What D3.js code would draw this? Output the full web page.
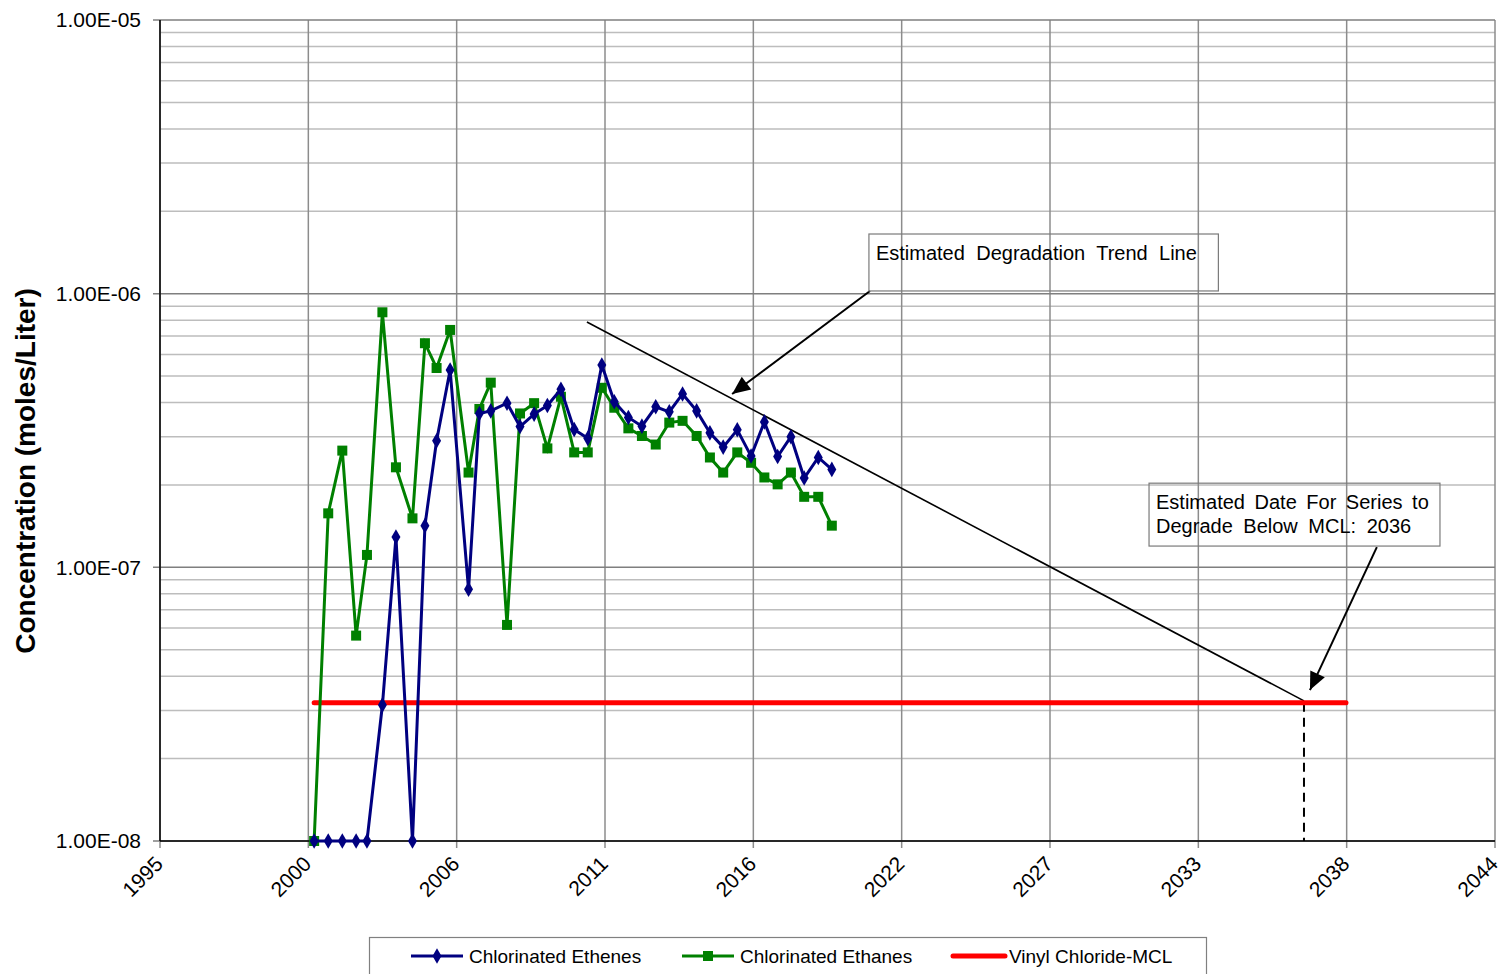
<!DOCTYPE html>
<html>
<head>
<meta charset="utf-8">
<script src="https://cdn.jsdelivr.net/npm/d3@7"></script>
<style>
  html, body { margin: 0; padding: 0; background: #fff; }
  svg { display: block; font-family: Arial, "Liberation Sans", sans-serif; }
</style>
</head>
<body>
<svg id="chart" width="1502" height="974"></svg>
<script>
// ---------------- DATA ----------------
// Sampling dates (decimal years)
const etheneDates = [2000.77, 2001.29, 2001.81, 2002.32, 2002.72, 2003.29, 2003.79, 2004.40, 2004.86, 2005.29,
  2005.79, 2006.47, 2006.87, 2007.29, 2007.89, 2008.37, 2008.89, 2009.38, 2009.88, 2010.37,
  2010.87, 2011.39, 2011.85, 2012.37, 2012.87, 2013.38, 2013.88, 2014.37, 2014.89, 2015.38,
  2015.87, 2016.39, 2016.90, 2017.39, 2017.88, 2018.37, 2018.86, 2019.38, 2019.88];
const etheneValues = [1.0e-8, 1.0e-8, 1.0e-8, 1.0e-8, 1.0e-8, 3.14e-8, 1.29e-7, 1.0e-8, 1.42e-7, 2.90e-7,
  5.26e-7, 8.31e-8, 3.65e-7, 3.73e-7, 3.98e-7, 3.27e-7, 3.63e-7, 3.90e-7, 4.47e-7, 3.19e-7,
  2.96e-7, 5.49e-7, 4.03e-7, 3.53e-7, 3.28e-7, 3.86e-7, 3.70e-7, 4.30e-7, 3.73e-7, 3.10e-7,
  2.75e-7, 3.18e-7, 2.55e-7, 3.40e-7, 2.54e-7, 3.00e-7, 2.12e-7, 2.52e-7, 2.28e-7];
const ethaneDates = etheneDates;
const ethaneValues = [1.0e-8, 1.575e-7, 2.67e-7, 5.63e-8, 1.11e-7, 8.55e-7, 2.32e-7, 1.51e-7, 6.59e-7, 5.35e-7,
  7.37e-7, 2.22e-7, 3.79e-7, 4.73e-7, 6.16e-8, 3.65e-7, 3.98e-7, 2.72e-7, 4.20e-7, 2.63e-7,
  2.63e-7, 4.53e-7, 3.83e-7, 3.22e-7, 3.02e-7, 2.81e-7, 3.38e-7, 3.43e-7, 3.02e-7, 2.52e-7,
  2.22e-7, 2.63e-7, 2.41e-7, 2.13e-7, 2.01e-7, 2.22e-7, 1.81e-7, 1.81e-7, 1.42e-7];
// Vinyl chloride MCL
const mclDates = [2000.77, 2038.86];
const mclValues = [3.2e-8, 3.2e-8];
// Estimated degradation trend line
const trendDates = [2010.84, 2037.31];
const trendValues = [7.88e-7, 3.25e-8];
// dashed drop line to axis
const dropDates = [2037.31, 2037.31];
const dropValues = [3.2e-8, 1.0e-8];

// Axis ticks
const xTickStart = 1995.08, xTickStep = 5.4757;
const xTickLabels = ["1995", "2000", "2006", "2011", "2016", "2022", "2027", "2033", "2038", "2044"];
const yTickValues = [1e-8, 1e-7, 1e-6, 1e-5];
const yTickLabels = ["1.00E-08", "1.00E-07", "1.00E-06", "1.00E-05"];
const yTitle = "Concentration (moles/Liter)";
const seriesNames = ["Chlorinated Ethenes", "Chlorinated Ethanes", "Vinyl Chloride-MCL"];

// Annotations (data units)
const note1Lines = ["Estimated Degradation Trend Line"];
const note1Box = { x0: 2021.25, x1: 2034.15, y0: 1.652e-6, y1: 1.023e-6 };
const arrow1 = { from: [2021.29, 1.023e-6], to: [2016.20, 4.30e-7] };
const note2Lines = ["Estimated Date For Series to", "Degrade Below MCL: 2036"];
const note2Box = { x0: 2031.59, x1: 2042.33, y0: 2.03e-7, y1: 1.196e-7 };
const arrow2 = { from: [2040.00, 1.186e-7], to: [2037.53, 3.56e-8] };

// ---------------- CHART ----------------
const svg = d3.select("#chart");
const W = 1502, H = 974;
const m = { left: 160, top: 20, right: 7, bottom: 133 };
const pw = W - m.left - m.right, ph = H - m.top - m.bottom;

const xTickValues = xTickLabels.map((d, i) => xTickStart + i * xTickStep);
const x = d3.scaleLinear().domain([xTickValues[0], xTickValues[xTickValues.length - 1]]).range([m.left, m.left + pw]);
const y = d3.scaleLog().domain([1e-8, 1e-5]).range([m.top + ph, m.top]);

const g = svg.append("g");

// minor horizontal grid
const minor = [];
for (let e = -8; e < -5; e++) for (let k = 2; k <= 9; k++) minor.push(k * Math.pow(10, e));
g.selectAll(".minor").data(minor).enter().append("line")
  .attr("x1", m.left).attr("x2", m.left + pw)
  .attr("y1", d => y(d)).attr("y2", d => y(d))
  .attr("stroke", "#bdbdbd").attr("stroke-width", 1.5);

// vertical grid (extending as ticks below axis)
g.selectAll(".vgrid").data(xTickValues).enter().append("line")
  .attr("x1", d => x(d)).attr("x2", d => x(d))
  .attr("y1", m.top).attr("y2", m.top + ph + 7)
  .attr("stroke", "#8c8c8c").attr("stroke-width", 1.5);

// major horizontal grid (extending as ticks left)
g.selectAll(".major").data(yTickValues).enter().append("line")
  .attr("x1", m.left - 7).attr("x2", m.left + pw)
  .attr("y1", d => y(d)).attr("y2", d => y(d))
  .attr("stroke", "#7f7f7f").attr("stroke-width", 1.5);

// axes lines
g.append("line").attr("x1", m.left).attr("x2", m.left).attr("y1", m.top).attr("y2", m.top + ph)
  .attr("stroke", "#000").attr("stroke-width", 1.5);
g.append("line").attr("x1", m.left).attr("x2", m.left + pw).attr("y1", m.top + ph).attr("y2", m.top + ph)
  .attr("stroke", "#000").attr("stroke-width", 1.5);

// y tick labels
g.selectAll(".ylab").data(yTickValues).enter().append("text")
  .attr("x", 141).attr("y", d => y(d)).attr("dy", "0.35em")
  .attr("text-anchor", "end").attr("font-size", 21).attr("fill", "#000")
  .text((d, i) => yTickLabels[i]);

// x tick labels
g.selectAll(".xlab").data(xTickValues).enter().append("text")
  .attr("transform", d => `translate(${x(d) - 1},${m.top + ph + 19}) rotate(-45)`)
  .attr("dy", "0.35em").attr("text-anchor", "end").attr("font-size", 21).attr("fill", "#000")
  .text((d, i) => xTickLabels[i]);

// y title
svg.append("text")
  .attr("transform", `translate(35,471) rotate(-90)`)
  .attr("text-anchor", "middle").attr("font-size", 28).attr("font-weight", "bold")
  .text(yTitle);

// ---------- series ----------
const line = d3.line().x(d => x(d[0])).y(d => y(d[1]));
const ethene = etheneDates.map((d, i) => [d, etheneValues[i]]);
const ethane = ethaneDates.map((d, i) => [d, ethaneValues[i]]);
const mcl = mclDates.map((d, i) => [d, mclValues[i]]);
const trend = trendDates.map((d, i) => [d, trendValues[i]]);
const drop = dropDates.map((d, i) => [d, dropValues[i]]);

const blue = "#000080", green = "#008000", red = "#ff0000";

// trend line and drop line
g.append("path").datum(trend).attr("d", line).attr("fill", "none").attr("stroke", "#000").attr("stroke-width", 1.6);
g.append("path").datum(drop).attr("d", line).attr("fill", "none").attr("stroke", "#000").attr("stroke-width", 2)
  .attr("stroke-dasharray", "9,6");

// MCL
g.append("path").datum(mcl).attr("d", line).attr("fill", "none").attr("stroke", red)
  .attr("stroke-width", 5).attr("stroke-linecap", "round");

// ethane (green)
g.append("path").datum(ethane).attr("d", line).attr("fill", "none").attr("stroke", green).attr("stroke-width", 3);
g.selectAll(".sq").data(ethane).enter().append("rect")
  .attr("x", d => x(d[0]) - 5).attr("y", d => y(d[1]) - 5).attr("width", 10).attr("height", 10)
  .attr("fill", green);

// ethene (blue)
g.append("path").datum(ethene).attr("d", line).attr("fill", "none").attr("stroke", blue).attr("stroke-width", 3);
const diamond = d3.symbol().type(d3.symbolDiamond).size(70);
g.selectAll(".dm").data(ethene).enter().append("path")
  .attr("transform", d => `translate(${x(d[0])},${y(d[1])})`)
  .attr("d", diamond).attr("fill", blue);

// ---------- annotations ----------
function arrowTo(a) {
  const x1 = x(a.from[0]), y1 = y(a.from[1]), x2 = x(a.to[0]), y2 = y(a.to[1]);
  g.append("line").attr("x1", x1).attr("y1", y1).attr("x2", x2).attr("y2", y2)
    .attr("stroke", "#000").attr("stroke-width", 2);
  const ang = Math.atan2(y2 - y1, x2 - x1);
  const L = 18, Wd = 8;
  const bx = x2 - L * Math.cos(ang), by = y2 - L * Math.sin(ang);
  const p1 = [bx + Wd * Math.sin(ang), by - Wd * Math.cos(ang)];
  const p2 = [bx - Wd * Math.sin(ang), by + Wd * Math.cos(ang)];
  g.append("path").attr("d", `M${x2},${y2}L${p1[0]},${p1[1]}L${p2[0]},${p2[1]}Z`).attr("fill", "#000");
}
arrowTo(arrow1);
arrowTo(arrow2);

function note(box, lines, spacings) {
  const bx = x(box.x0), by = y(box.y0), bw = x(box.x1) - x(box.x0), bh = y(box.y1) - y(box.y0);
  g.append("rect").attr("x", bx).attr("y", by).attr("width", bw).attr("height", bh)
    .attr("fill", "none").attr("stroke", "#7a7a7a").attr("stroke-width", 1.2);
  lines.forEach((t, i) => {
    g.append("text").attr("x", bx + 7).attr("y", by + 26 + i * 24)
      .attr("font-size", 20).attr("word-spacing", spacings[i]).attr("fill", "#000").text(t);
  });
}
note(note1Box, note1Lines, [5.8]);
note(note2Box, note2Lines, [4, 5]);

// ---------- legend ----------
const lg = svg.append("g");
lg.append("rect").attr("x", 369.5).attr("y", 937.5).attr("width", 837).attr("height", 45)
  .attr("fill", "#fff").attr("stroke", "#808080").attr("stroke-width", 1.2);
const legendItems = [
  { name: seriesNames[0], color: blue, x0: 411, tx: 469, w: 3, mk: "diamond" },
  { name: seriesNames[1], color: green, x0: 682, tx: 740, w: 3, mk: "square" },
  { name: seriesNames[2], color: red, x0: 953, tx: 1009, w: 5, mk: null }
];
const ly = 956;
legendItems.forEach(it => {
  lg.append("line").attr("x1", it.x0).attr("x2", it.x0 + 52).attr("y1", ly).attr("y2", ly)
    .attr("stroke", it.color).attr("stroke-width", it.w).attr("stroke-linecap", it.mk ? "butt" : "round");
  if (it.mk === "diamond") {
    lg.append("path").attr("transform", `translate(${it.x0 + 26},${ly})`).attr("d", diamond).attr("fill", it.color);
  } else if (it.mk === "square") {
    lg.append("rect").attr("x", it.x0 + 21).attr("y", ly - 5).attr("width", 10).attr("height", 10).attr("fill", it.color);
  }
  lg.append("text").attr("x", it.tx).attr("y", ly).attr("dy", "0.35em")
    .attr("font-size", 19).attr("fill", "#000").text(it.name);
});
</script>
</body>
</html>
